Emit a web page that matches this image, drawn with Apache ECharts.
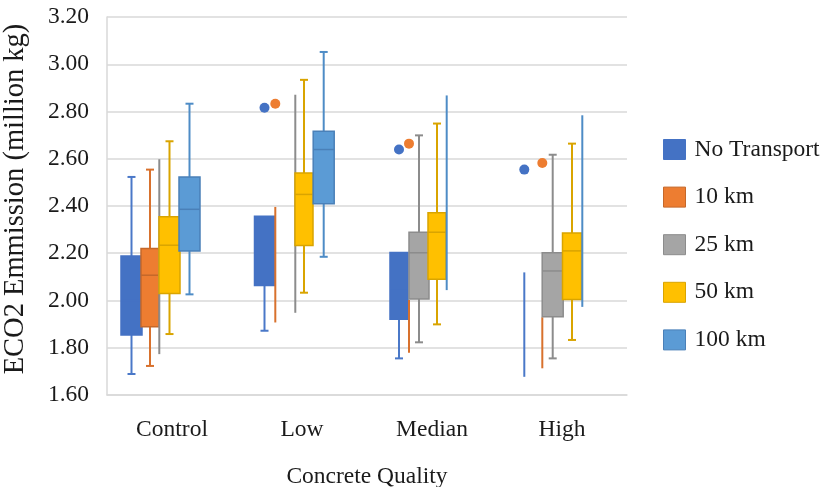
<!DOCTYPE html>
<html>
<head>
<meta charset="utf-8">
<script src="https://cdn.jsdelivr.net/npm/echarts@6/dist/echarts.min.js"></script>
<style>html,body{margin:0;padding:0;background:#fff}#c{width:825px;height:487px}</style>
</head>
<body>
<div id="c"></div>
<script>
// ---- Data ----
const categories = ['Control', 'Low', 'Median', 'High'];
const seriesNames = ['No Transport', '10 km', '25 km', '50 km', '100 km'];
const yTicks = ['1.60','1.80','2.00','2.20','2.40','2.60','2.80','3.00','3.20'];

// [min, q1, median, q3, max] per category; q1/median/q3 null where only a whisker line is drawn
const noTransport = [
  [1.689, 1.854, 2.000, 2.188, 2.523],
  [1.872, 2.064, 2.200, 2.357, 2.357],
  [1.755, 1.921, 2.050, 2.203, 2.203],
  [1.677, null, null, null, 2.119]
];
const km10 = [
  [1.723, 1.889, 2.107, 2.220, 2.554],
  [1.907, null, null, null, 2.396],
  [1.779, null, null, null, 2.002],
  [1.713, null, null, null, 1.929]
];
const km25 = [
  [1.773, null, null, null, 2.598],
  [1.948, null, null, null, 2.871],
  [1.823, 2.006, 2.202, 2.289, 2.699],
  [1.755, 1.931, 2.125, 2.202, 2.617]
];
const km50 = [
  [1.858, 2.030, 2.234, 2.354, 2.674],
  [2.033, 2.233, 2.449, 2.540, 2.934],
  [1.899, 2.090, 2.289, 2.371, 2.749],
  [1.833, 2.004, 2.210, 2.286, 2.664]
];
const km100 = [
  [2.026, 2.209, 2.386, 2.523, 2.833],
  [2.185, 2.410, 2.639, 2.716, 3.052],
  [2.044, null, null, null, 2.868],
  [1.973, null, null, null, 2.784]
];
// outliers per category (null = none)
const noTransportOutliers = [null, 2.816, 2.639, 2.554];
const km10Outliers = [null, 2.833, 2.664, 2.582];
const km25Outliers = [null, null, null, null];
const km50Outliers = [null, null, null, null];
const km100Outliers = [null, null, null, null];

// ---- Layout / style (not data) ----
// per category: [x offset from category centre, box width] in px of a 130px band; width 0 = line only
const layout = [
  [[-40.5, 21], [-37.5, 20], [-33, 18], [-37.7, 0]],
  [[-22, 18], [-26.7, 0], [-23, 0], [-19.7, 0]],
  [[-12.7, 0], [-6.7, 0], [-13, 20], [-9.3, 21]],
  [[-2.5, 21], [2, 18], [5, 18], [10, 19]],
  [[17.5, 21], [21.7, 21], [14.7, 0], [20.3, 0]]
];
const fills = ['#4472C4', '#ED7D31', '#A5A5A5', '#FFC000', '#5B9BD5'];
const borders = ['#4472C4', '#C5682A', '#8C8C8C', '#D9A400', '#4A80B8'];
const whiskers = ['#4A78C8', '#D8712D', '#8C8C8C', '#D9A400', '#4E8CC6'];

const allValues = [noTransport, km10, km25, km50, km100];
const allOutliers = [noTransportOutliers, km10Outliers, km25Outliers, km50Outliers, km100Outliers];

const FONT = 'Liberation Serif';
const TXT = '#1a1a1a';

function makeRender(si) {
  return function (params, api) {
    const ci = params.dataIndex;
    const v = allValues[si][ci];
    const band = api.size([1, 0])[0];
    const k = band / 130;
    const off = layout[si][ci][0] * k;
    const w = layout[si][ci][1] * k;
    const cx = api.coord([ci, 0])[0] + off;
    const y = (val) => api.coord([ci, val])[1];
    const children = [];
    const wc = whiskers[si];
    if (v[1] == null) {
      children.push({ type: 'line', shape: { x1: cx, y1: y(v[0]), x2: cx, y2: y(v[4]) },
        style: { stroke: wc, lineWidth: 2 } });
    } else {
      const cap = 4;
      if (v[4] > v[3]) {
        children.push({ type: 'line', shape: { x1: cx, y1: y(v[4]), x2: cx, y2: y(v[3]) }, style: { stroke: wc, lineWidth: 2 } });
        children.push({ type: 'line', shape: { x1: cx - cap, y1: y(v[4]), x2: cx + cap, y2: y(v[4]) }, style: { stroke: wc, lineWidth: 2 } });
      }
      if (v[0] < v[1]) {
        children.push({ type: 'line', shape: { x1: cx, y1: y(v[1]), x2: cx, y2: y(v[0]) }, style: { stroke: wc, lineWidth: 2 } });
        children.push({ type: 'line', shape: { x1: cx - cap, y1: y(v[0]), x2: cx + cap, y2: y(v[0]) }, style: { stroke: wc, lineWidth: 2 } });
      }
      const top = y(v[3]), bot = y(v[1]);
      children.push({ type: 'rect', shape: { x: cx - w / 2, y: top, width: w, height: bot - top },
        style: { fill: fills[si], stroke: borders[si], lineWidth: 1.5 } });
      children.push({ type: 'line', shape: { x1: cx - w / 2, y1: y(v[2]), x2: cx + w / 2, y2: y(v[2]) },
        style: { stroke: borders[si], lineWidth: 1.5 } });
    }
    const o = allOutliers[si][ci];
    if (o != null) {
      children.push({ type: 'circle', shape: { cx: cx, cy: y(o), r: 5 }, style: { fill: fills[si] } });
    }
    return { type: 'group', children: children };
  };
}

const series = seriesNames.map((name, si) => ({
  name: name,
  type: 'custom',
  renderItem: makeRender(si),
  itemStyle: { color: fills[si] },
  encode: { x: 0, y: [1, 2, 3, 4, 5] },
  data: categories.map((c, ci) => [ci].concat(allValues[si][ci].map(x => x == null ? allValues[si][ci][0] : x)))
}));

const chart = echarts.init(document.getElementById('c'), null, { renderer: 'canvas' });
chart.setOption({
  animation: false,
  backgroundColor: '#fff',
  textStyle: { fontFamily: FONT },
  grid: { left: 107, right: 198, top: 17, bottom: 92, containLabel: false, outerBoundsMode: 'none' },
  legend: {
    orient: 'vertical',
    left: 658,
    top: 132.5,
    padding: 5,
    itemWidth: 22,
    itemHeight: 20,
    itemGap: 23.6,
    icon: 'rect',
    textStyle: { fontFamily: FONT, fontSize: 23.5, color: TXT, padding: [0, 0, 0, 4] },
    data: seriesNames.map((n, i) => ({ name: n, itemStyle: { color: fills[i], borderColor: borders[i], borderWidth: 1 } }))
  },
  graphic: [{
    type: 'text',
    x: 16,
    y: 199,
    rotation: Math.PI / 2,
    style: { text: 'ECO2 Emmission (million kg)', fontFamily: FONT, fontSize: 28.5, fill: TXT,
      align: 'center', verticalAlign: 'middle' }
  }],
  xAxis: {
    type: 'category',
    data: categories,
    boundaryGap: true,
    name: 'Concrete Quality',
    nameLocation: 'middle',
    nameGap: 70,
    nameTextStyle: { fontFamily: FONT, fontSize: 23.5, color: TXT },
    axisLine: { show: true, lineStyle: { color: '#D9D9D9', width: 1.5 } },
    axisTick: { show: false },
    axisLabel: { fontFamily: FONT, fontSize: 23.5, color: TXT, margin: 23 },
    splitLine: { show: false }
  },
  yAxis: {
    type: 'value',
    min: 1.6,
    max: 3.2,
    interval: 0.2,
    axisLine: { show: true, lineStyle: { color: '#D9D9D9', width: 1.5 } },
    axisTick: { show: false },
    axisLabel: { fontFamily: FONT, fontSize: 23.5, color: TXT, margin: 18,
      formatter: (val) => yTicks[Math.round((val - 1.6) / 0.2)] },
    splitLine: { show: true, lineStyle: { color: '#D9D9D9', width: 1.5 } }
  },
  series: series
});
</script>
</body>
</html>
